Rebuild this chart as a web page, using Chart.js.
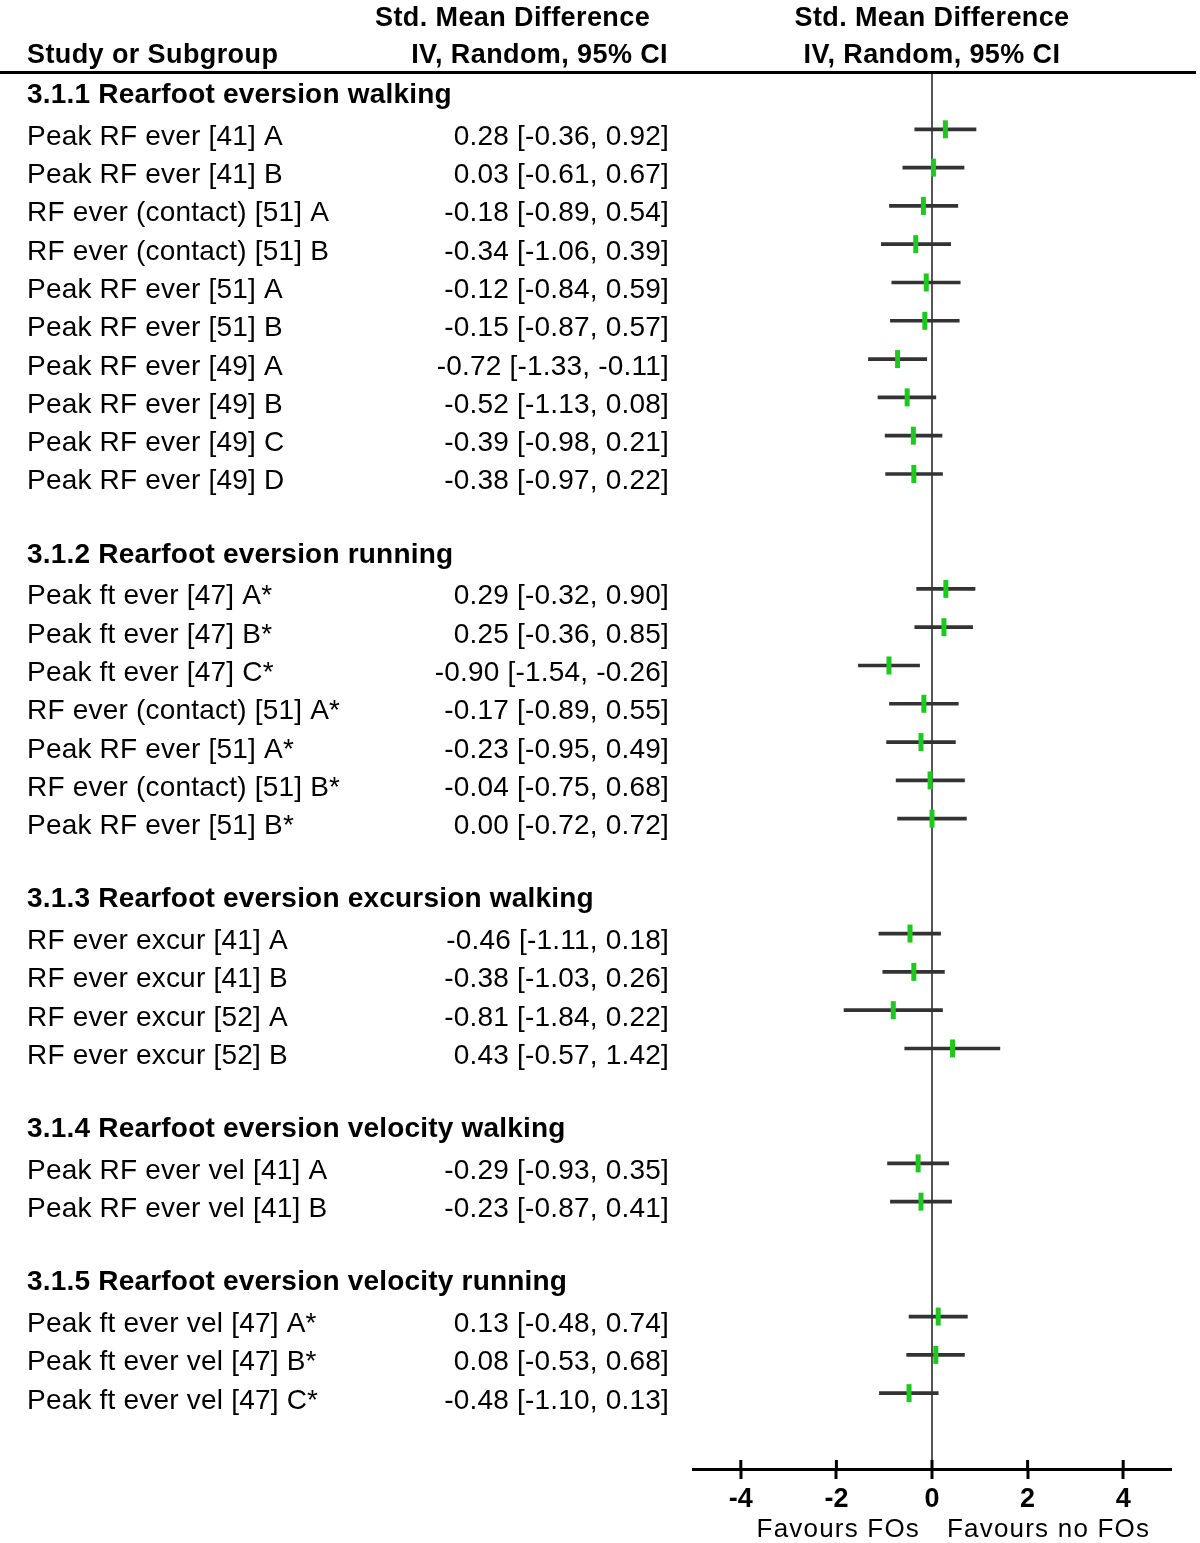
<!DOCTYPE html>
<html>
<head>
<meta charset="utf-8">
<script src="https://cdn.jsdelivr.net/npm/chart.js@4.4.1/dist/chart.umd.min.js"></script>
<style>
  html, body { margin: 0; padding: 0; background: #fff; }
  #wrap { width: 1200px; height: 1543px; position: relative; }
</style>
</head>
<body>
<div id="wrap"><canvas id="forest"></canvas></div>
<script>
// subgroups and how many studies each holds
const groupTitles = [
    "3.1.1 Rearfoot eversion walking",
    "3.1.2 Rearfoot eversion running",
    "3.1.3 Rearfoot eversion excursion walking",
    "3.1.4 Rearfoot eversion velocity walking",
    "3.1.5 Rearfoot eversion velocity running"
];
const groupSizes = [10, 7, 4, 2, 3];

const studyLabels = [
    "Peak RF ever [41] A", "Peak RF ever [41] B", "RF ever (contact) [51] A", "RF ever (contact) [51] B",
    "Peak RF ever [51] A", "Peak RF ever [51] B", "Peak RF ever [49] A", "Peak RF ever [49] B",
    "Peak RF ever [49] C", "Peak RF ever [49] D",
    "Peak ft ever [47] A*", "Peak ft ever [47] B*", "Peak ft ever [47] C*", "RF ever (contact) [51] A*",
    "Peak RF ever [51] A*", "RF ever (contact) [51] B*", "Peak RF ever [51] B*",
    "RF ever excur [41] A", "RF ever excur [41] B", "RF ever excur [52] A", "RF ever excur [52] B",
    "Peak RF ever vel [41] A", "Peak RF ever vel [41] B",
    "Peak ft ever vel [47] A*", "Peak ft ever vel [47] B*", "Peak ft ever vel [47] C*"
];
const smd = [0.28, 0.03, -0.18, -0.34, -0.12, -0.15, -0.72, -0.52, -0.39, -0.38,
             0.29, 0.25, -0.90, -0.17, -0.23, -0.04, 0.00,
             -0.46, -0.38, -0.81, 0.43,
             -0.29, -0.23,
             0.13, 0.08, -0.48];
const ciLow = [-0.36, -0.61, -0.89, -1.06, -0.84, -0.87, -1.33, -1.13, -0.98, -0.97,
               -0.32, -0.36, -1.54, -0.89, -0.95, -0.75, -0.72,
               -1.11, -1.03, -1.84, -0.57,
               -0.93, -0.87,
               -0.48, -0.53, -1.10];
const ciHigh = [0.92, 0.67, 0.54, 0.39, 0.59, 0.57, -0.11, 0.08, 0.21, 0.22,
                0.90, 0.85, -0.26, 0.55, 0.49, 0.68, 0.72,
                0.18, 0.26, 0.22, 1.42,
                0.35, 0.41,
                0.74, 0.68, 0.13];
const xTicks = [-4, -2, 0, 2, 4];

// row slots: header, its studies, then one blank line
const headerSlots = [];
const studySlots = [];
let slot = 0;
groupSizes.forEach(function (n) {
    headerSlots.push(slot);
    slot++;
    for (let i = 0; i < n; i++) { studySlots.push(slot); slot++; }
    slot++;
});

const fmt = v => v.toFixed(2);

const textPlugin = {
    id: "forestText",
    afterDraw(chart) {
        const ctx = chart.ctx;
        const y = chart.scales.y;
        const x = chart.scales.x;
        ctx.save();
        ctx.fillStyle = "#000";
        ctx.textBaseline = "alphabetic";

        // column headers
        ctx.font = "bold 27px 'Liberation Sans', Arial, sans-serif";
        ctx.letterSpacing = "0.4px";
        ctx.textAlign = "left";
        ctx.fillText("Study or Subgroup", 27, 63);
        ctx.fillText("Std. Mean Difference", 375, 26);
        ctx.textAlign = "right";
        ctx.fillText("IV, Random, 95% CI", 668, 63);
        ctx.textAlign = "center";
        const x0 = x.getPixelForValue(0);
        ctx.fillText("Std. Mean Difference", x0, 26);
        ctx.fillText("IV, Random, 95% CI", x0, 63);

        // rule under the header
        ctx.fillRect(0, 71, 1196, 3);

        // subgroup titles
        ctx.font = "bold 28px 'Liberation Sans', Arial, sans-serif";
        ctx.letterSpacing = "0.2px";
        ctx.textAlign = "left";
        headerSlots.forEach(function (s, i) {
            ctx.fillText(groupTitles[i], 27, y.getPixelForValue(s) + 12);
        });

        // study rows
        ctx.font = "28px 'Liberation Sans', Arial, sans-serif";
        ctx.letterSpacing = "0.2px";
        studySlots.forEach(function (s, i) {
            const py = y.getPixelForValue(s) + 15.5;
            ctx.textAlign = "left";
            ctx.fillText(studyLabels[i], 27, py);
            ctx.textAlign = "right";
            ctx.fillText(fmt(smd[i]) + " [" + fmt(ciLow[i]) + ", " + fmt(ciHigh[i]) + "]", 669, py);
        });

        // upper half of the axis ticks
        xTicks.forEach(function (t) {
            const px = x.getPixelForValue(t);
            ctx.fillRect(px - 1.5, chart.chartArea.bottom - 9, 3, 9);
        });

        // favours labels
        ctx.font = "26px 'Liberation Sans', Arial, sans-serif";
        ctx.letterSpacing = "1.2px";
        ctx.textAlign = "right";
        ctx.fillText("Favours FOs", 920, 1537);
        ctx.textAlign = "left";
        ctx.fillText("Favours no FOs", 947, 1537);
        ctx.restore();
    }
};

const ctx = document.getElementById("forest").getContext("2d");

new Chart(ctx, {
    type: "bar",
    data: {
        datasets: [
            {
                type: "scatter",
                label: "SMD",
                data: smd.map((v, i) => ({ x: v, y: studySlots[i] })),
                pointStyle: "line",
                rotation: 90,
                radius: 9,
                hoverRadius: 9,
                borderWidth: 5,
                borderColor: "#1ec81e",
                backgroundColor: "#1ec81e"
            },
            {
                type: "bar",
                label: "95% CI",
                data: ciLow.map((v, i) => ({ x: [v, ciHigh[i]], y: studySlots[i] })),
                backgroundColor: "#333333",
                barThickness: 3,
                borderWidth: 0
            }
        ]
    },
    options: {
        indexAxis: "y",
        responsive: true,
        maintainAspectRatio: false,
        animation: false,
        layout: {
            padding: { left: 693, right: 29, top: 73, bottom: 0 }
        },
        plugins: {
            legend: { display: false },
            tooltip: { enabled: false }
        },
        scales: {
            x: {
                type: "linear",
                min: -5,
                max: 5,
                afterBuildTicks: function (scale) {
                    scale.ticks = xTicks.map(v => ({ value: v }));
                },
                afterFit: function (scale) {
                    scale.height = 74;
                },
                border: { display: true, color: "#000", width: 3 },
                grid: {
                    drawOnChartArea: true,
                    color: c => (c.tick && c.tick.value === 0 ? "#555555" : "rgba(0,0,0,0)"),
                    lineWidth: 2,
                    tickColor: "#000",
                    tickWidth: 3,
                    tickLength: 10
                },
                ticks: {
                    color: "#000",
                    padding: 4,
                    font: { family: "'Liberation Sans', Arial, sans-serif", size: 27, weight: "bold" }
                }
            },
            y: {
                type: "linear",
                display: false,
                reverse: true,
                offset: false,
                min: -0.47,
                max: 35.98
            }
        }
    },
    plugins: [textPlugin]
});
</script>
</body>
</html>
